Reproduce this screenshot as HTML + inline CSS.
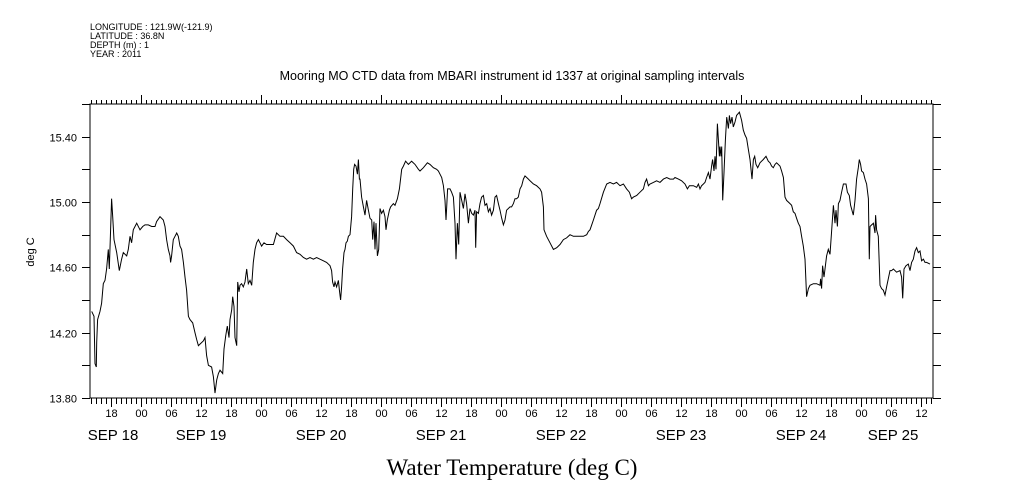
<!DOCTYPE html>
<html><head><meta charset="utf-8">
<style>
html,body{margin:0;padding:0;background:#fff;}
svg{display:block;font-family:"Liberation Sans",sans-serif;}
</style></head>
<body>
<svg id="chart" width="1009" height="504" viewBox="0 0 1009 504" xmlns="http://www.w3.org/2000/svg">
<g font-size="9" fill="#000">
<text x="90" y="30">LONGITUDE : 121.9W(-121.9)</text>
<text x="90" y="39">LATITUDE : 36.8N</text>
<text x="90" y="48">DEPTH (m) : 1</text>
<text x="90" y="57">YEAR : 2011</text>
</g>
<text x="512" y="80" text-anchor="middle" font-size="12.5">Mooring MO CTD data from MBARI instrument id 1337 at original sampling intervals</text>
<text transform="translate(34,252) rotate(-90)" text-anchor="middle" font-size="11">deg C</text>
<text x="512" y="475" text-anchor="middle" font-family="'Liberation Serif',serif" font-size="23">Water Temperature (deg C)</text>
<g id="axes"></g>
<path id="series" fill="none" stroke="#000" stroke-width="1"/>
</svg>
<script>
const hours = [-9.87,-9.4,-9.2,-8.93,-8.87,-8.67,-8.2,-7.87,-7.53,-7.2,-6.87,-6.53,-6.33,-6.07,-5.87,-5.67,-5.4,-4.87,-4.33,-3.87,-3.53,-2.87,-2.53,-2.2,-1.87,-1.53,-1.2,-0.87,-0.2,0.33,0.8,1.47,2.13,2.8,3.13,3.8,4.47,4.8,5.13,5.47,5.8,5.93,6.13,6.47,6.8,7.13,7.47,7.8,8.13,8.47,8.8,9.13,9.47,9.8,10.33,10.8,11.13,11.47,11.8,12.47,12.8,13.13,13.47,14.13,14.47,14.8,15.13,15.47,15.8,16.33,16.6,16.93,17.27,17.6,17.8,18.13,18.33,18.6,18.8,19.13,19.33,19.6,19.8,20.13,20.47,20.8,21.13,21.47,21.8,22.13,22.47,22.8,23.13,23.47,23.8,24.13,24.6,25.13,25.8,26.47,27.13,27.8,28.47,29.13,29.8,30.47,31.13,31.8,32.47,33.13,33.8,34.47,35.13,35.8,36.47,37.13,37.8,38.13,38.33,38.6,38.8,39.13,39.47,39.67,39.93,40.13,40.33,40.6,40.8,41.0,41.27,41.47,41.8,42.13,42.33,42.53,42.73,43.0,43.27,43.47,43.67,
43.8,44.13,44.47,44.8,45.13,45.47,45.8,46.13,46.33,46.6,46.8,47.0,47.27,47.53,47.8,48.13,48.47,48.8,49.0,49.27,49.67,49.93,50.47,50.8,51.27,51.67,52.13,52.47,52.93,53.47,54.13,54.8,55.47,55.8,56.47,57.27,57.8,58.47,59.13,59.47,59.8,60.13,60.47,60.8,61.0,61.13,61.33,61.8,62.13,62.47,62.8,63.0,63.27,63.53,63.8,64.13,64.47,64.8,65.13,65.47,65.8,66.13,66.47,66.8,66.93,67.13,67.47,67.8,68.13,68.47,68.8,69.13,69.47,69.8,70.13,70.47,70.8,71.13,71.47,71.8,72.13,72.47,72.8,73.13,73.8,74.13,74.47,74.8,75.13,75.47,75.8,76.13,76.47,76.8,77.13,77.47,77.8,78.47,79.13,79.8,80.13,80.47,80.6,81.13,81.8,82.47,83.13,83.8,84.47,85.13,85.8,86.47,87.13,87.8,88.47,89.13,89.47,89.8,90.13,90.47,91.13,91.47,91.8,92.47,93.13,93.8,94.47,95.13,95.8,96.47,97.13,97.67,98.13,98.47,99.13,99.8,
100.47,100.8,101.13,101.47,101.8,102.47,103.13,103.8,104.47,105.13,105.8,106.47,106.8,107.47,108.13,108.8,109.27,109.67,110.47,111.13,111.47,111.8,112.13,112.47,112.8,113.13,113.47,113.8,114.13,114.33,114.6,114.8,115.0,115.27,115.47,115.67,115.8,116.0,116.13,116.33,116.6,116.87,117.13,117.47,117.67,117.93,118.2,118.47,118.8,119.13,119.67,120.13,120.47,120.8,121.13,121.47,121.8,122.0,122.2,122.47,122.73,123.0,123.33,123.8,124.47,125.0,125.47,125.8,126.13,126.47,126.8,127.13,127.8,128.13,128.47,128.8,129.13,129.8,130.13,130.47,130.8,131.13,131.47,131.8,132.13,132.47,132.8,133.13,133.47,133.8,134.47,135.13,135.8,135.93,136.13,136.33,136.6,136.8,137.13,137.47,137.8,138.13,138.47,138.8,139.0,139.27,139.47,139.8,140.13,140.47,141.0,141.27,141.67,141.93,142.47,142.8,143.13,143.47,143.67,143.93,144.13,144.47,144.8,145.13,145.47,145.67,145.8,146.13,146.47,146.8,146.93,147.13,147.47,147.8,148.13,148.47,148.8,149.13,149.8,150.13,150.47,151.13,151.8,152.13,152.33,152.6,153.0,153.47,153.8,154.13,154.47,154.8,155.13,155.47,155.8,156.13,156.47,156.8,157.13,157.8];
const temps = [14.33,14.30,14.01,13.99,14.14,14.28,14.33,14.38,14.50,14.52,14.59,14.71,14.59,14.83,15.02,14.91,14.77,14.69,14.58,14.65,14.69,14.67,14.71,14.79,14.75,14.83,14.85,14.87,14.83,14.85,14.86,14.86,14.85,14.85,14.88,14.91,14.89,14.85,14.77,14.71,14.67,14.63,14.67,14.77,14.79,14.81,14.79,14.73,14.71,14.63,14.54,14.46,14.30,14.28,14.26,14.20,14.16,14.12,14.13,14.15,14.17,14.06,14.00,13.99,13.93,13.83,13.91,13.95,13.97,13.95,14.10,14.18,14.24,14.17,14.28,14.34,14.42,14.36,14.17,14.12,14.51,14.45,14.49,14.50,14.48,14.51,14.59,14.50,14.52,14.49,14.63,14.71,14.75,14.77,14.75,14.73,14.75,14.74,14.74,14.74,14.81,14.79,14.79,14.77,14.75,14.73,14.69,14.68,14.66,14.65,14.66,14.65,14.66,14.65,14.64,14.63,14.61,14.58,14.51,14.48,14.51,14.48,14.52,14.46,14.40,14.48,14.59,14.69,14.71,14.75,14.76,14.79,14.80,14.91,15.08,15.20,15.23,15.22,15.17,15.26,15.14,
15.14,15.03,14.97,14.92,15.01,14.95,14.90,14.89,14.77,14.88,14.71,14.87,14.67,14.71,14.96,14.93,14.95,14.91,14.83,14.89,14.95,14.97,14.99,14.98,15.02,15.08,15.20,15.22,15.25,15.23,15.25,15.23,15.20,15.19,15.21,15.24,15.23,15.21,15.20,15.19,15.17,15.15,15.10,15.01,14.89,14.97,15.08,15.08,15.06,15.03,14.87,14.65,14.87,14.74,15.06,15.01,14.96,15.05,14.99,14.87,14.96,14.93,14.92,14.95,14.72,14.94,14.93,14.99,15.03,15.04,14.98,14.99,14.94,14.96,14.92,14.95,15.03,15.04,14.99,14.95,14.90,14.86,14.89,14.95,14.97,14.97,14.99,15.02,15.02,15.03,15.08,15.10,15.14,15.16,15.15,15.14,15.13,15.11,15.10,15.08,15.06,14.97,14.83,14.79,14.75,14.71,14.72,14.74,14.77,14.78,14.80,14.79,14.79,14.79,14.79,14.80,14.82,14.83,14.86,14.89,14.95,14.96,14.99,15.06,15.11,15.12,15.11,15.12,15.10,15.11,15.08,15.06,15.02,15.03,15.04,15.06,
15.08,15.12,15.14,15.10,15.11,15.12,15.13,15.12,15.14,15.15,15.14,15.14,15.15,15.14,15.13,15.11,15.08,15.10,15.10,15.09,15.11,15.08,15.10,15.11,15.12,15.15,15.18,15.14,15.22,15.26,15.19,15.28,15.20,15.48,15.38,15.28,15.34,15.28,15.34,15.01,15.18,15.38,15.52,15.45,15.53,15.48,15.52,15.46,15.49,15.53,15.55,15.50,15.44,15.41,15.39,15.32,15.26,15.20,15.14,15.26,15.28,15.23,15.21,15.24,15.26,15.28,15.25,15.24,15.22,15.21,15.23,15.24,15.22,15.19,15.15,15.03,15.01,14.99,14.98,14.94,14.93,14.90,14.87,14.85,14.79,14.73,14.65,14.42,14.47,14.49,14.50,14.50,14.49,14.53,14.47,14.61,14.54,14.59,14.67,14.71,14.68,14.82,14.98,14.87,14.95,14.85,14.99,15.01,15.06,15.11,15.11,15.06,15.04,14.98,14.92,15.01,15.14,15.21,15.26,15.23,15.19,15.18,15.14,15.11,15.02,14.65,14.85,14.86,14.87,14.81,14.92,14.83,14.79,14.49,14.47,14.46,14.43,14.48,14.58,14.58,14.59,14.57,14.58,14.54,14.41,14.59,14.61,14.62,14.58,14.63,14.65,14.70,14.72,14.69,14.70,14.64,14.65,14.63,14.63,14.62];
const yTickValues = [13.8,14.0,14.2,14.4,14.6,14.8,15.0,15.2,15.4,15.6];
const yTickLabels = ["13.80","","14.20","","14.60","","15.00","","15.40",""];
const dayLabels = ["SEP 18","SEP 19","SEP 20","SEP 21","SEP 22","SEP 23","SEP 24","SEP 25"];
const hourLabels = ["00","06","12","18"];

const L=90,R=933,T=104,B=398;
const H0=-10.2, H1=158.4, Y0=13.8, Y1=15.6;
const xs=h=>L+(h-H0)/(H1-H0)*(R-L);
const ys=v=>B-(v-Y0)/(Y1-Y0)*(B-T);
const NS="http://www.w3.org/2000/svg";
const axes=document.getElementById('axes');
function mk(tag,attrs,parent){const e=document.createElementNS(NS,tag);for(const k in attrs)e.setAttribute(k,attrs[k]);(parent||axes).appendChild(e);return e;}

let frame=mk('rect',{x:L,y:T,width:R-L,height:B-T,fill:'none',stroke:'#000','stroke-width':1});



yTickValues.forEach((v,i)=>{
  const y=Math.round(ys(v))+0.5;
  let t=mk('line',{x1:L-8,x2:L,y1:y,y2:y,stroke:'#000'});
  
  
  let t2=mk('line',{x1:R,x2:R+8,y1:y,y2:y,stroke:'#000'});
  
  
  if(yTickLabels[i]){
    let tx=mk('text',{x:L-13,y:y+4,'text-anchor':'end','font-size':11});
    tx.textContent=yTickLabels[i];
    
    
  }
});

for(let h=Math.ceil(H0);h<=H1;h++){
  const x=Math.round(xs(h))+0.5;
  const hod=((h%24)+24)%24;
  const major=hod%6===0;
  let b=mk('line',{x1:x,x2:x,y1:B,y2:B+(major?9:6),stroke:'#000'});
  
  
  let t=mk('line',{x1:x,x2:x,y1:T,y2:T-(hod===0?9:4),stroke:'#000'});
  
  
  if(major){
    let tx=mk('text',{x:x,y:B+19,'text-anchor':'middle','font-size':11});
    tx.textContent=hourLabels[hod/6];
    
    
  }
}
dayLabels.forEach((d,i)=>{
  let cx=xs((i-1)*24+12);
  cx=Math.max(113,Math.min(893,cx));
  let tx=mk('text',{x:cx,y:B+42,'text-anchor':'middle','font-size':15});
  tx.textContent=d;
  
  
});

let d='';
hours.forEach((h,i)=>{d+=(i?'L':'M')+xs(h).toFixed(1)+' '+ys(temps[i]).toFixed(1);});
document.getElementById('series').setAttribute('d',d);
</script>
</body></html>
